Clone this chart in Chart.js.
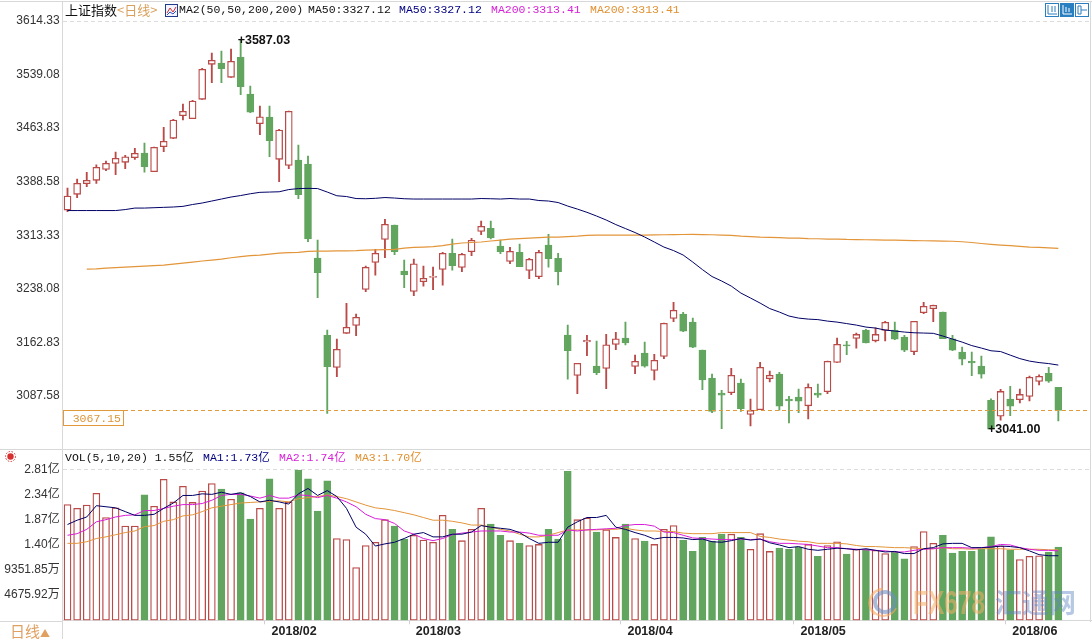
<!DOCTYPE html>
<html>
<head>
<meta charset="utf-8">
<title>上证指数</title>
<script src="https://cdn.jsdelivr.net/npm/chart.js@4"></script>
<style>
html, body { margin: 0; padding: 0; background: #fff; }
#page { position: relative; width: 1092px; height: 639px; overflow: hidden; background: #fff; }
canvas { position: absolute; left: 0; }
.txt { position: absolute; white-space: pre; font: 11.5px/14px "Liberation Mono", "Noto Sans CJK SC", monospace; color: #111; }
.rule { position: absolute; background: #d8d8d8; }
</style>
</head>
<body>
<div id="page">
  <canvas id="price" width="1092" height="449" style="top:0;width:1092px;height:449px"></canvas>
  <canvas id="volume" width="1092" height="190" style="top:449px;width:1092px;height:190px"></canvas>

  <div class="rule" style="left:0;top:1px;width:1092px;height:1px"></div>
  <div class="rule" style="left:0;top:449px;width:1091px;height:1px"></div>
  <div class="rule" style="left:0;top:621px;width:62px;height:1px"></div>
  <div class="rule" style="left:1090px;top:1px;width:1px;height:621px"></div>
  <div class="rule" style="left:62px;top:1px;width:1px;height:20px"></div>
  <div class="rule" style="left:62px;top:449px;width:1px;height:21px"></div>
  <div class="rule" style="left:62px;top:620px;width:1px;height:19px"></div>

  <div class="txt" style="left:65px;top:3px;font:13px/14px 'Noto Sans CJK SC'">上证指数</div>
  <div class="txt" style="left:117px;top:3px;font:13px/14px 'Noto Sans CJK SC';color:#d9a15c">&lt;日线&gt;</div>
  <svg style="position:absolute;left:165px;top:4px" width="13" height="13">
    <rect x="0.5" y="0.5" width="12" height="12" fill="#f4f4ff" stroke="#223a8a"/>
    <polyline points="2,9 5,4 8,8 11,3" fill="none" stroke="#d03030"/>
    <polyline points="2,11 5,8 8,10 11,7" fill="none" stroke="#3050c0"/>
  </svg>
  <div class="txt" style="left:179px;top:3px">MA2(50,50,200,200)</div>
  <div class="txt" style="left:308px;top:3px">MA50:3327.12</div>
  <div class="txt" style="left:399px;top:3px;color:#000080">MA50:3327.12</div>
  <div class="txt" style="left:491px;top:3px;color:#d81ed8">MA200:3313.41</div>
  <div class="txt" style="left:590px;top:3px;color:#e09030">MA200:3313.41</div>

  <svg style="position:absolute;left:1045px;top:3px" width="45" height="14">
    <g fill="#fff" stroke="#2a7fc0">
      <rect x="0.5" y="0.5" width="13" height="13"/>
      <rect x="15.5" y="0.5" width="13" height="13" fill="#2a7fc0"/>
      <rect x="30.5" y="0.5" width="13" height="13"/>
    </g>
    <path d="M3 2v9h9M7 3v6M10 3v6" fill="none" stroke="#2a7fc0"/>
    <path d="M18 2v9h9M21 4v5M24 5v4" fill="none" stroke="#fff"/>
    <path d="M33 3v8h3v-8zM36 7h6" fill="none" stroke="#2a7fc0"/>
  </svg>

  <svg style="position:absolute;left:3px;top:449px" width="15" height="15">
    <circle cx="7.5" cy="7.5" r="3.2" fill="#d83030"/>
    <circle cx="7.5" cy="7.5" r="5" fill="none" stroke="#d83030" stroke-dasharray="1.5 1.5"/>
  </svg>
  <div class="txt" style="left:65px;top:451px">VOL(5,10,20) 1.55亿</div>
  <div class="txt" style="left:203px;top:451px;color:#000080">MA1:1.73亿</div>
  <div class="txt" style="left:279px;top:451px;color:#d81ed8">MA2:1.74亿</div>
  <div class="txt" style="left:355px;top:451px;color:#e09030">MA3:1.70亿</div>

  <div class="txt" style="left:10px;top:622px;font:15px/17px 'Noto Sans CJK SC';color:#e0a060">日线<span style="font-size:10px">▲</span></div>

  <svg style="position:absolute;left:866px;top:586px;opacity:.6" width="34" height="34">
    <path d="M17 3a14 14 0 0 0 -8 25" fill="none" stroke="#f5a860" stroke-width="3"/>
    <path d="M6 24a14 14 0 0 0 24 -2" fill="none" stroke="#f5a860" stroke-width="2"/>
    <circle cx="19" cy="16" r="10" fill="none" stroke="#6f8fc0" stroke-width="4"/>
  </svg>
  <div class="txt" style="left:913px;top:583px;font:bold 34px/38px 'Liberation Sans';color:#f3b064;opacity:.55;transform:scaleX(.72);transform-origin:left">FX678</div>
  <div class="txt" style="left:995px;top:585px;font:bold 27px/34px 'Noto Sans CJK SC';color:#5f86c4;opacity:.45">汇通网</div>
</div>

<script>
// dates of the candles, one per trading day
var categories = [
    "2018/01/03", "2018/01/04", "2018/01/05", "2018/01/08", "2018/01/09", "2018/01/10", "2018/01/11", "2018/01/12",
    "2018/01/15", "2018/01/16", "2018/01/17", "2018/01/18", "2018/01/19", "2018/01/22", "2018/01/23", "2018/01/24",
    "2018/01/25", "2018/01/26", "2018/01/29", "2018/01/30", "2018/01/31",
    "2018/02/01", "2018/02/02", "2018/02/05", "2018/02/06", "2018/02/07", "2018/02/08", "2018/02/09", "2018/02/12",
    "2018/02/13", "2018/02/14", "2018/02/22", "2018/02/23", "2018/02/26", "2018/02/27", "2018/02/28",
    "2018/03/01", "2018/03/02", "2018/03/05", "2018/03/06", "2018/03/07", "2018/03/08", "2018/03/09", "2018/03/12",
    "2018/03/13", "2018/03/14", "2018/03/15", "2018/03/16", "2018/03/19", "2018/03/20", "2018/03/21", "2018/03/22",
    "2018/03/23", "2018/03/26", "2018/03/27", "2018/03/28", "2018/03/29", "2018/03/30",
    "2018/04/02", "2018/04/03", "2018/04/04", "2018/04/09", "2018/04/10", "2018/04/11", "2018/04/12", "2018/04/13",
    "2018/04/16", "2018/04/17", "2018/04/18", "2018/04/19", "2018/04/20", "2018/04/23", "2018/04/24", "2018/04/25",
    "2018/04/26", "2018/04/27",
    "2018/05/02", "2018/05/03", "2018/05/04", "2018/05/07", "2018/05/08", "2018/05/09", "2018/05/10", "2018/05/11",
    "2018/05/14", "2018/05/15", "2018/05/16", "2018/05/17", "2018/05/18", "2018/05/21", "2018/05/22", "2018/05/23",
    "2018/05/24", "2018/05/25", "2018/05/28", "2018/05/29", "2018/05/30", "2018/05/31",
    "2018/06/01", "2018/06/04", "2018/06/05", "2018/06/06", "2018/06/07", "2018/06/08"
];

var highPrices = [
    3379.6, 3392.3, 3401.7, 3412.4, 3417.6, 3430.2, 3425.6, 3435.4, 3442.9, 3437.3, 3464.9, 3476.2, 3497.7,
    3502.9, 3547.8, 3569.4, 3572.2, 3575.0, 3587.03, 3523.0, 3494.9, 3494.9, 3462.1, 3487.8, 3440.1, 3424.6,
    3306.6, 3180.1, 3167.4, 3217.6, 3202.6, 3270.0, 3293.5, 3335.6, 3327.6, 3278.5, 3279.9, 3270.0, 3268.6,
    3289.3, 3308.0, 3287.9, 3309.0, 3333.3, 3333.3, 3306.6, 3296.3, 3300.9, 3280.8, 3292.1, 3314.6, 3287.9,
    3187.1, 3133.3, 3172.6, 3164.6, 3174.0, 3176.8, 3191.3, 3145.0, 3163.2, 3146.0, 3189.9, 3219.0, 3205.0,
    3197.0, 3152.0, 3118.3, 3095.3, 3126.3, 3111.2, 3083.1, 3134.7, 3122.5, 3120.6, 3086.9, 3097.2, 3104.6,
    3104.2, 3136.5, 3168.8, 3164.2, 3175.9, 3181.1, 3183.3, 3192.3, 3191.3, 3172.6, 3192.3, 3219.0, 3215.2,
    3205.4, 3172.6, 3156.2, 3149.2, 3143.5, 3083.5, 3096.8, 3101.0, 3097.2, 3115.5, 3117.3, 3127.7, 3099.6
];
var lowPrices = [
    3346.3, 3366.0, 3381.5, 3386.2, 3403.9, 3398.3, 3406.8, 3420.0, 3402.1, 3402.6, 3430.7, 3448.9, 3475.2,
    3477.0, 3504.3, 3527.6, 3527.6, 3535.2, 3510.8, 3485.5, 3454.5, 3423.6, 3388.5, 3406.8, 3364.6, 3304.2,
    3225.5, 3063.0, 3114.5, 3175.5, 3172.1, 3233.9, 3257.4, 3281.7, 3285.9, 3239.5, 3228.3, 3241.9, 3236.7,
    3243.3, 3264.4, 3262.0, 3284.5, 3314.0, 3308.0, 3287.3, 3273.3, 3269.0, 3252.2, 3252.2, 3268.6, 3243.7,
    3111.2, 3090.6, 3144.0, 3117.3, 3097.6, 3152.4, 3159.4, 3118.7, 3128.1, 3110.2, 3139.8, 3191.8, 3177.7,
    3155.2, 3096.2, 3063.9, 3041.4, 3089.2, 3065.8, 3045.6, 3068.1, 3107.4, 3067.7, 3049.8, 3063.9, 3055.4,
    3085.5, 3090.6, 3134.7, 3145.4, 3154.8, 3162.2, 3163.6, 3165.0, 3166.5, 3149.7, 3145.4, 3203.0, 3191.8,
    3167.9, 3151.0, 3131.3, 3115.9, 3112.6, 3041.0, 3053.6, 3059.7, 3077.9, 3080.7, 3103.2, 3106.6, 3052.6
];
var openPrices = [
    3348.7, 3370.8, 3385.7, 3390.5, 3405.9, 3414.3, 3415.8, 3422.2, 3428.8, 3402.6, 3437.7, 3449.5, 3481.2,
    3477.0, 3504.3, 3553.5, 3555.3, 3535.2, 3563.3, 3511.7, 3470.0, 3479.4, 3420.0, 3411.5, 3419.0, 3413.4,
    3281.3, 3172.6, 3127.7, 3175.5, 3186.7, 3237.3, 3275.2, 3307.5, 3327.6, 3263.0, 3234.5, 3248.0, 3254.1,
    3265.4, 3287.9, 3268.2, 3290.1, 3318.8, 3323.0, 3298.1, 3276.6, 3289.3, 3264.0, 3255.0, 3299.5, 3280.8,
    3173.1, 3116.4, 3163.6, 3129.5, 3126.3, 3160.0, 3168.8, 3129.1, 3147.8, 3123.5, 3143.1, 3196.5, 3202.6,
    3191.3, 3152.0, 3112.6, 3091.5, 3092.0, 3105.6, 3061.6, 3068.1, 3111.7, 3118.3, 3083.1, 3086.0, 3073.7,
    3091.5, 3093.4, 3134.7, 3159.4, 3168.4, 3180.1, 3165.0, 3179.7, 3180.1, 3170.3, 3149.7, 3204.4, 3210.0,
    3205.4, 3167.9, 3149.2, 3136.1, 3129.5, 3081.3, 3059.2, 3083.1, 3082.2, 3086.9, 3108.0, 3119.2, 3099.6
];
var closePrices = [
    3368.4, 3386.2, 3390.5, 3408.7, 3414.3, 3421.4, 3423.6, 3428.4, 3409.6, 3436.8, 3445.3, 3475.2, 3487.4,
    3501.9, 3546.4, 3559.1, 3547.3, 3557.7, 3522.0, 3486.4, 3479.8, 3446.1, 3461.1, 3487.4, 3370.2, 3308.0,
    3260.6, 3128.5, 3153.0, 3183.9, 3197.9, 3268.2, 3287.9, 3328.6, 3290.1, 3257.8, 3273.3, 3252.7, 3255.5,
    3287.9, 3270.5, 3286.5, 3306.1, 3325.8, 3309.4, 3290.1, 3290.7, 3269.0, 3279.4, 3289.3, 3280.3, 3262.0,
    3151.0, 3133.3, 3165.6, 3120.1, 3159.4, 3167.9, 3162.2, 3136.1, 3129.5, 3137.5, 3189.5, 3207.8, 3178.7,
    3156.2, 3110.2, 3065.8, 3088.7, 3116.4, 3069.5, 3067.2, 3127.7, 3116.4, 3073.3, 3080.7, 3080.3, 3099.6,
    3088.7, 3136.1, 3160.0, 3158.0, 3174.0, 3162.2, 3174.0, 3190.9, 3167.4, 3152.0, 3192.3, 3213.4, 3214.8,
    3167.9, 3152.0, 3139.3, 3134.1, 3118.2, 3041.0, 3093.9, 3073.3, 3089.7, 3113.6, 3115.0, 3108.4, 3067.15
];

var ma50Prices = [
    3348.0, 3348.0, 3348.0, 3348.0, 3348.0, 3348.0, 3349.4, 3351.5, 3351.5, 3352.0, 3352.5, 3353.0, 3353.9,
    3356.5, 3358.6, 3361.4, 3364.2, 3367.0, 3369.1, 3371.6, 3373.6, 3374.0, 3374.4, 3377.5, 3378.9, 3379.2,
    3378.9, 3374.0, 3368.8, 3367.7, 3364.9, 3364.6, 3365.2, 3366.3, 3365.6, 3364.6, 3364.2, 3364.2, 3364.2,
    3364.2, 3364.2, 3364.2, 3364.2, 3364.9, 3364.6, 3364.2, 3364.9, 3364.2, 3364.2, 3362.1, 3361.4, 3359.3,
    3354.3, 3350.1, 3345.5, 3340.3, 3334.7, 3328.3, 3322.7, 3317.1, 3310.8, 3303.8, 3296.7, 3291.8, 3285.5,
    3275.6, 3265.1, 3255.3, 3249.0, 3241.9, 3232.1, 3225.1, 3218.0, 3210.3, 3205.4, 3199.8, 3196.9, 3195.5,
    3194.8, 3192.7, 3191.3, 3189.2, 3187.1, 3184.3, 3182.9, 3180.1, 3178.7, 3177.3, 3176.3, 3175.9, 3175.5,
    3171.7, 3167.4, 3163.2, 3158.3, 3154.8, 3151.0, 3149.9, 3144.9, 3140.0, 3136.5, 3134.4, 3133.0, 3130.9
];
var ma200Prices = [
    null, null, 3265.8, 3266.2, 3267.2, 3267.9, 3268.6, 3269.3, 3270.0, 3270.7, 3271.4, 3272.8, 3274.2,
    3275.6, 3277.1, 3278.5, 3279.9, 3281.7, 3283.4, 3284.8, 3285.5, 3286.9, 3288.3, 3289.0, 3289.3, 3290.7,
    3291.1, 3291.1, 3291.4, 3291.5, 3291.7, 3292.5, 3292.9, 3293.2, 3293.6, 3295.3, 3296.3, 3296.7, 3297.2,
    3298.8, 3300.9, 3302.4, 3303.1, 3303.8, 3305.2, 3306.6, 3308.0, 3308.7, 3309.4, 3310.1, 3310.8, 3310.8,
    3311.5, 3312.2, 3313.2, 3313.6, 3313.6, 3313.6, 3313.6, 3313.6, 3313.6, 3313.9, 3314.0, 3314.3, 3314.4,
    3314.6, 3314.3, 3314.0, 3313.6, 3313.2, 3312.2, 3311.5, 3310.8, 3310.4, 3310.0, 3309.4, 3309.4, 3308.7,
    3308.4, 3308.0, 3308.0, 3307.5, 3307.3, 3307.0, 3306.7, 3306.6, 3306.4, 3306.1, 3305.9, 3305.6, 3305.3,
    3305.2, 3304.9, 3304.2, 3303.1, 3301.7, 3300.5, 3299.5, 3298.6, 3297.6, 3296.7, 3296.2, 3295.5, 3294.9
];

// volume, in 亿
var volumes = [
    2.15, 2.08, 2.14, 2.36, 1.91, 2.09, 1.75, 1.75, 2.33, 2.12, 2.62, 2.20, 2.49, 2.19, 2.40, 2.54, 2.44, 2.25,
    2.37, 1.88, 2.08, 2.63, 2.08, 2.20, 2.79, 2.63, 2.03, 2.59, 1.52, 1.50, 0.98, 1.39, 1.45, 1.87, 1.75, 1.51,
    1.58, 1.49, 1.45, 1.95, 1.69, 1.48, 1.69, 2.08, 1.79, 1.58, 1.48, 1.43, 1.39, 1.41, 1.69, 1.51, 2.77, 1.87,
    1.90, 1.64, 1.68, 1.54, 1.79, 1.52, 1.47, 1.41, 1.69, 1.76, 1.49, 1.28, 1.54, 1.47, 1.60, 1.60, 1.54, 1.32,
    1.61, 1.28, 1.34, 1.32, 1.36, 1.41, 1.19, 1.39, 1.46, 1.23, 1.32, 1.32, 1.30, 1.24, 1.27, 1.14, 1.37, 1.65,
    1.43, 1.58, 1.25, 1.28, 1.28, 1.33, 1.55, 1.38, 1.30, 1.13, 1.19, 1.20, 1.27, 1.36
];
var volMa5 = [
    1.78, 1.86, 1.92, 2.13, 2.11, 2.09, 2.02, 1.95, 1.95, 1.97, 2.08, 2.18, 2.32, 2.32, 2.35, 2.34, 2.38, 2.34,
    2.37, 2.30, 2.20, 2.23, 2.20, 2.16, 2.35, 2.45, 2.32, 2.41, 2.30, 2.08, 1.73, 1.60, 1.38, 1.42, 1.45, 1.52,
    1.60, 1.63, 1.55, 1.55, 1.60, 1.60, 1.64, 1.76, 1.73, 1.71, 1.69, 1.63, 1.52, 1.43, 1.45, 1.45, 1.73, 1.83,
    1.91, 1.91, 1.95, 1.73, 1.69, 1.63, 1.58, 1.51, 1.54, 1.54, 1.53, 1.50, 1.51, 1.46, 1.45, 1.48, 1.52, 1.49,
    1.51, 1.44, 1.40, 1.35, 1.37, 1.32, 1.30, 1.32, 1.34, 1.33, 1.31, 1.33, 1.30, 1.27, 1.28, 1.24, 1.24, 1.33,
    1.35, 1.42, 1.43, 1.43, 1.35, 1.35, 1.36, 1.38, 1.37, 1.35, 1.29, 1.22, 1.20, 1.20
];
var volMa10 = [
    1.58, 1.61, 1.69, 1.83, 1.87, 1.92, 1.95, 1.96, 2.04, 2.04, 2.08, 2.12, 2.15, 2.15, 2.17, 2.23, 2.32, 2.34,
    2.34, 2.31, 2.27, 2.32, 2.27, 2.27, 2.33, 2.32, 2.28, 2.32, 2.27, 2.20, 2.11, 1.97, 1.89, 1.87, 1.80, 1.66,
    1.60, 1.52, 1.48, 1.52, 1.59, 1.62, 1.64, 1.66, 1.66, 1.66, 1.64, 1.64, 1.62, 1.58, 1.58, 1.58, 1.68, 1.66,
    1.68, 1.69, 1.70, 1.71, 1.76, 1.78, 1.78, 1.75, 1.64, 1.63, 1.58, 1.53, 1.52, 1.51, 1.50, 1.50, 1.51, 1.50,
    1.51, 1.46, 1.43, 1.43, 1.42, 1.41, 1.38, 1.35, 1.35, 1.33, 1.32, 1.31, 1.30, 1.29, 1.27, 1.27, 1.30, 1.32,
    1.33, 1.35, 1.35, 1.35, 1.34, 1.35, 1.37, 1.41, 1.40, 1.35, 1.32, 1.30, 1.30, 1.29
];
var volMa20 = [
    1.43, 1.43, 1.46, 1.52, 1.55, 1.59, 1.63, 1.66, 1.74, 1.76, 1.84, 1.87, 1.94, 1.96, 2.02, 2.09, 2.12, 2.15,
    2.18, 2.19, 2.20, 2.21, 2.22, 2.20, 2.26, 2.28, 2.30, 2.33, 2.30, 2.26, 2.20, 2.14, 2.09, 2.07, 2.04, 2.00,
    1.96, 1.91, 1.86, 1.86, 1.84, 1.81, 1.77, 1.77, 1.73, 1.69, 1.66, 1.60, 1.55, 1.55, 1.58, 1.63, 1.68, 1.68,
    1.68, 1.68, 1.69, 1.69, 1.71, 1.68, 1.66, 1.66, 1.65, 1.65, 1.62, 1.61, 1.61, 1.61, 1.63, 1.63, 1.63, 1.63,
    1.56, 1.54, 1.51, 1.49, 1.47, 1.46, 1.43, 1.43, 1.43, 1.42, 1.39, 1.37, 1.37, 1.36, 1.35, 1.35, 1.34, 1.33,
    1.33, 1.35, 1.33, 1.33, 1.32, 1.33, 1.33, 1.33, 1.32, 1.32, 1.32, 1.32, 1.31, 1.31
];

var priceTicks = [3614.33, 3539.08, 3463.83, 3388.58, 3313.33, 3238.08, 3162.83, 3087.58];
var volumeTicks = [2.806, 2.338, 1.871, 1.403, 0.935, 0.468];
var volumeTickLabels = ["2.81亿", "2.34亿", "1.87亿", "1.40亿", "9351.85万", "4675.92万"];
var lastClose = 3067.15;
var highestPrice = 3587.03;
var lowestPrice = 3041.00;

var RED = "#b94a48";
var GREEN = "#62a55f";
var NAVY = "#000066";
var MAGENTA = "#d81ed8";
var ORANGE = "#e3953a";
var AXIS_FONT = "'Liberation Sans', 'Noto Sans CJK SC', sans-serif";
var AXIS_WIDTH = 62.7;
var EMPTY_SLOTS = 3; // room right of the last candle

var xLabels = categories.concat(new Array(EMPTY_SLOTS).fill(""));

function isUp(i) {
    return closePrices[i] >= openPrices[i];
}
function zipRange(a, b) {
    return a.map(function (v, i) { return [v, b[i]]; });
}
function startOfMonth(i) {
    if (!(i > 0 && i < categories.length)) {
        return false;
    }
    return categories[i].slice(0, 7) !== categories[i - 1].slice(0, 7);
}
function candleColor(ctx) {
    return isUp(ctx.dataIndex) ? RED : GREEN;
}
function bodyFill(ctx) {
    return isUp(ctx.dataIndex) ? "#fff" : GREEN;
}

function fixAxisSize(scale) {
    scale.width = AXIS_WIDTH;
    scale.paddingTop = 0;
    scale.paddingBottom = 0;
}

// explicit tick values and the dashed line on top of each panel
function yAxis(min, max, ticks, labelFn) {
    return {
        min: min,
        max: max,
        afterFit: fixAxisSize,
        afterBuildTicks: function (scale) {
            scale.ticks = ticks.map(function (v) { return { value: v }; });
        },
        border: { color: "#d8d8d8", dash: [4, 3] },
        grid: {
            drawTicks: false,
            color: function (ctx) {
                return ctx.index === 0 ? "#dcdcdc" : "transparent";
            }
        },
        ticks: {
            padding: 3,
            color: "#333",
            autoSkip: false,
            font: { family: AXIS_FONT, size: 12 },
            callback: labelFn
        }
    };
}

var priceLabels = {
    id: "priceLabels",
    afterDatasetsDraw: function (chart) {
        var c = chart.ctx;
        var y = chart.scales.y;
        var x = chart.scales.x;
        var area = chart.chartArea;
        var lastY = Math.round(y.getPixelForValue(lastClose)) + 0.5;
        c.save();
        // last close line and its box on the axis
        c.strokeStyle = "#e09a3c";
        c.setLineDash([4, 3]);
        c.beginPath();
        c.moveTo(124, lastY);
        c.lineTo(area.right - 2, lastY);
        c.stroke();
        c.setLineDash([]);
        c.fillStyle = "#fff";
        c.strokeStyle = "#e09a3c";
        c.fillRect(63.5, lastY, 60, 15);
        c.strokeRect(63.5, lastY, 60, 15);
        c.fillStyle = "#dc9438";
        c.font = "11.5px 'Liberation Mono'";
        c.textBaseline = "middle";
        c.textAlign = "right";
        c.fillText(lastClose.toFixed(2), 121, lastY + 8);
        // highest and lowest prices
        c.font = "bold 12.5px 'Liberation Sans'";
        c.textAlign = "left";
        c.fillStyle = "#111";
        var highX = x.getPixelForValue(highPrices.indexOf(highestPrice));
        var highY = y.getPixelForValue(highestPrice);
        c.fillText("+" + highestPrice.toFixed(2), highX - 3, highY);
        var lowX = x.getPixelForValue(lowPrices.indexOf(lowestPrice));
        var lowY = y.getPixelForValue(lowestPrice);
        c.fillText("+" + lowestPrice.toFixed(2), lowX - 3, lowY);
        c.restore();
    }
};

new Chart(document.getElementById("price"), {
    data: {
        labels: xLabels,
        datasets: [
            { type: "line", data: ma50Prices, borderColor: NAVY, borderWidth: 1, pointRadius: 0, order: 1 },
            { type: "line", data: ma200Prices, borderColor: ORANGE, borderWidth: 1.2, pointRadius: 0, order: 1 },
            {
                type: "bar", data: zipRange(openPrices, closePrices), barThickness: 7, grouped: false,
                backgroundColor: bodyFill, borderColor: candleColor, borderWidth: 1.3, borderSkipped: false, order: 2
            },
            {
                type: "bar", data: zipRange(lowPrices, highPrices), barThickness: 1.2, grouped: false,
                backgroundColor: candleColor, borderWidth: 0, order: 3
            }
        ]
    },
    options: {
        responsive: false,
        animation: false,
        layout: { padding: { top: 21, bottom: 0, left: 0, right: 0 } },
        plugins: { legend: { display: false }, tooltip: { enabled: false } },
        scales: {
            x: { display: false, offset: true, grid: { display: false } },
            y: yAxis(3013, 3614.33, priceTicks, function (v) { return v.toFixed(2); })
        }
    },
    plugins: [priceLabels]
});

new Chart(document.getElementById("volume"), {
    data: {
        labels: xLabels,
        datasets: [
            { type: "line", data: volMa5, borderColor: NAVY, borderWidth: 1, pointRadius: 0, order: 1 },
            { type: "line", data: volMa10, borderColor: MAGENTA, borderWidth: 1, pointRadius: 0, order: 1 },
            { type: "line", data: volMa20, borderColor: ORANGE, borderWidth: 1, pointRadius: 0, order: 1 },
            {
                type: "bar", data: volumes, barThickness: 7,
                backgroundColor: bodyFill, borderColor: candleColor, borderWidth: 1.3, borderSkipped: false, order: 2
            }
        ]
    },
    options: {
        responsive: false,
        animation: false,
        layout: { padding: { top: 20.3, bottom: 0, left: 0, right: 0 } },
        plugins: { legend: { display: false }, tooltip: { enabled: false } },
        scales: {
            x: {
                offset: true,
                afterFit: function (scale) { scale.height = 18.7; },
                border: { color: "#d8d8d8" },
                grid: {
                    drawOnChartArea: false,
                    tickLength: 4,
                    tickColor: function (ctx) {
                        return startOfMonth(ctx.index) ? "#d0d0d0" : "transparent";
                    }
                },
                ticks: {
                    autoSkip: false,
                    maxRotation: 0,
                    align: "start",
                    padding: 0,
                    labelOffset: 2,
                    color: "#222",
                    font: { family: AXIS_FONT, size: 12.5, weight: "bold" },
                    callback: function (v, i) {
                        return startOfMonth(i) ? categories[i].slice(0, 7) : "";
                    }
                }
            },
            y: yAxis(0, 2.806, volumeTicks, function (v) {
                return volumeTickLabels[volumeTicks.indexOf(v)];
            })
        }
    }
});
</script>
</body>
</html>
